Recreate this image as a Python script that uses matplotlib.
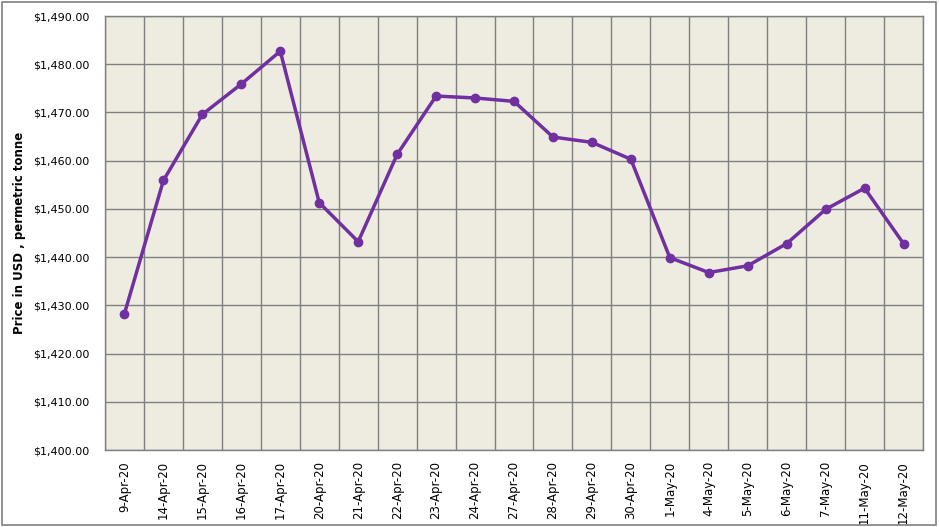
import numpy as np
import matplotlib.pyplot as plt
from matplotlib.patches import Rectangle

# datas e precos (USD por tonelada)
datas = ["9-Apr-20", "14-Apr-20", "15-Apr-20", "16-Apr-20", "17-Apr-20",
         "20-Apr-20", "21-Apr-20", "22-Apr-20", "23-Apr-20", "24-Apr-20",
         "27-Apr-20", "28-Apr-20", "29-Apr-20", "30-Apr-20", "1-May-20",
         "4-May-20", "5-May-20", "6-May-20", "7-May-20", "11-May-20", "12-May-20"]
precos = [1428.3, 1455.9, 1469.6, 1475.9, 1482.7,
          1451.3, 1443.2, 1461.3, 1473.4, 1473.0,
          1472.3, 1464.9, 1463.8, 1460.3, 1439.9,
          1436.8, 1438.2, 1442.8, 1449.9, 1454.3, 1442.8]

fig = plt.figure(figsize=(9.39, 5.27), dpi=100)
ax = fig.add_axes([105 / 939, 1 - 450 / 527, 818 / 939, 434 / 527])

ax.set_facecolor("#EEECE1")
x = np.arange(len(datas))
ax.plot(x, precos, color="#7030A0", linewidth=2.5, marker="o", markersize=6)

ax.set_xlim(-0.5, len(datas) - 0.5)
ax.set_ylim(1400, 1490)
ax.set_yticks(np.arange(1400, 1491, 10))
ax.set_yticklabels([f"${v:,.2f}" for v in np.arange(1400, 1491, 10)], fontsize=8)
ax.set_xticks(x)
ax.set_xticklabels(datas, rotation=90, fontsize=8.5)
ax.tick_params(axis="y", length=0, pad=11)
ax.tick_params(axis="x", length=0, pad=8)

# grade vertical entre as categorias
ax.set_xticks(np.arange(-0.5, len(datas), 1), minor=True)
ax.tick_params(which="minor", length=0)
ax.grid(which="minor", axis="x", color="#808080", linewidth=1.0)
ax.grid(which="major", axis="y", color="#808080", linewidth=1.0)
ax.set_axisbelow(True)
for s in ax.spines.values():
    s.set_color("#808080")
    s.set_linewidth(1.0)

ax.set_ylabel("Price in USD , permetric tonne", fontsize=8.5, fontweight="bold", labelpad=5)

# borda do grafico
fig.patches.append(Rectangle((0.002, 0.004), 0.995, 0.992, transform=fig.transFigure,
                             fill=False, edgecolor="#808080", linewidth=1.2))

plt.savefig("out.png", dpi=100)
